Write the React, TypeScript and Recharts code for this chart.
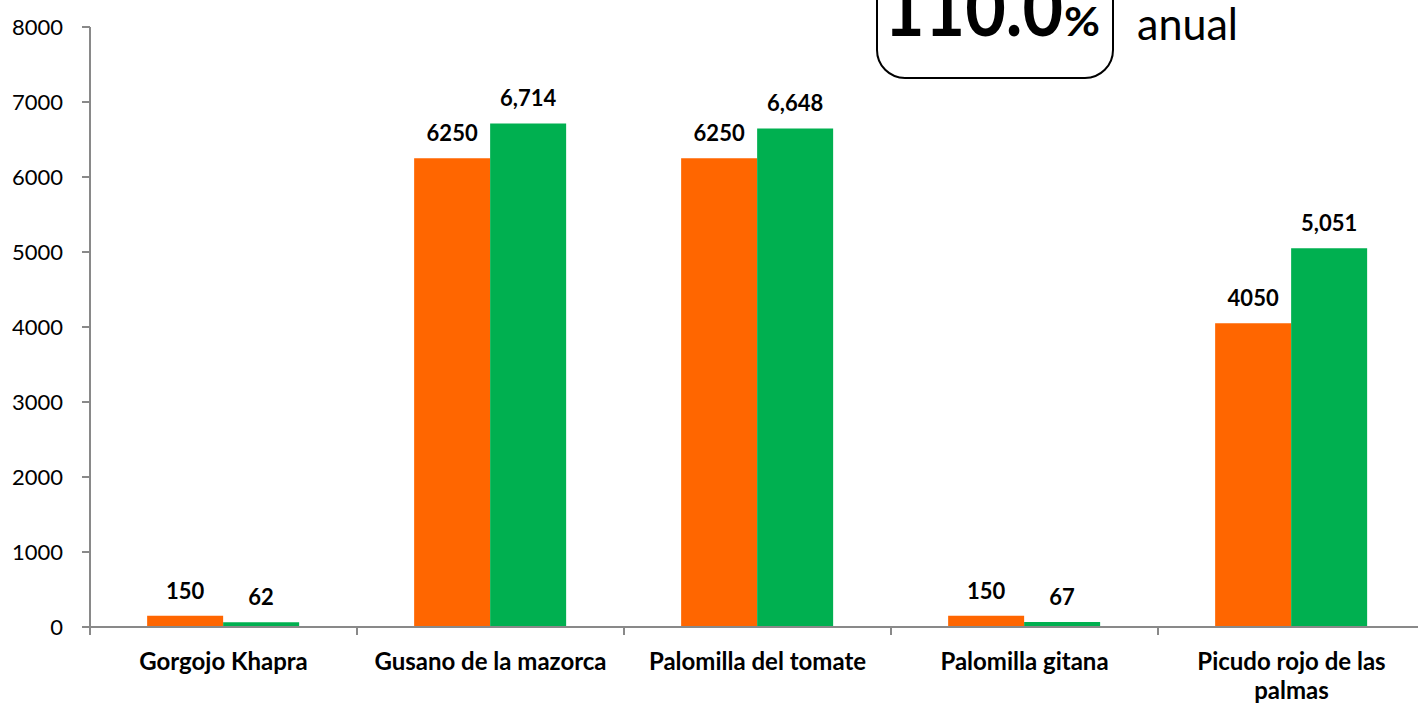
import { BarChart, Bar, XAxis, YAxis, LabelList } from 'recharts';

const categories = ['Gorgojo Khapra', 'Gusano de la mazorca', 'Palomilla del tomate', 'Palomilla gitana', 'Picudo rojo de las palmas'];
const meta = [150, 6250, 6250, 150, 4050];
const logrado = [62, 6714, 6648, 67, 5051];
const yTicks = [0, 1000, 2000, 3000, 4000, 5000, 6000, 7000, 8000];
const avance = '110.0';

const data = categories.map((name, i) => ({ name, meta: meta[i], logrado: logrado[i] }));

const FONT = 'Lato, "Open Sans", sans-serif';
const AXIS = '#898989';
const CAT_W = 267;

function wrap(label: string, max = 20) {
  const lines: string[] = [];
  let cur = '';
  for (const w of label.split(' ')) {
    const next = cur ? cur + ' ' + w : w;
    if (next.length > max && cur) {
      lines.push(cur);
      cur = w;
    } else cur = next;
  }
  if (cur) lines.push(cur);
  return lines;
}

const CatTick = (props: any) => {
  const { x, y, payload } = props;
  const lines = wrap(payload.value);
  return (
    <g>
      <line x1={x - CAT_W / 2} x2={x - CAT_W / 2} y1={y - 8} y2={y} stroke={AXIS} strokeWidth={2} />
      <line x1={x + CAT_W / 2} x2={x + CAT_W / 2} y1={y - 8} y2={y} stroke={AXIS} strokeWidth={2} />
      {lines.map((l, i) => (
        <text key={i} x={x} y={y + 35 + i * 29} textAnchor="middle" fontSize={24} fontWeight="bold" fontFamily={FONT} fill="#000">
          {l}
        </text>
      ))}
    </g>
  );
};

const labelStyle = { fontSize: 22, fontWeight: 'bold', fill: '#000', fontFamily: FONT };

export default function App() {
  return (
    <div style={{ position: 'absolute', left: 0, top: 0, width: 1418, height: 705, overflow: 'hidden', background: '#fff' }}>
      <BarChart
        width={1440}
        height={705}
        data={data}
        margin={{ top: 27, right: 15, left: 0, bottom: 0 }}
        barCategoryGap="21.4%"
        barGap={0}
      >
        <XAxis
          dataKey="name"
          height={78}
          axisLine={{ stroke: AXIS, strokeWidth: 2 }}
          tickLine={false}
          tick={<CatTick />}
          interval={0}
        />
        <YAxis
          width={90}
          domain={[0, 8000]}
          ticks={yTicks}
          interval={0}
          axisLine={{ stroke: AXIS, strokeWidth: 2 }}
          tickLine={{ stroke: AXIS, strokeWidth: 2 }}
          tickSize={8}
          tickMargin={19}
          tick={{ fontSize: 22, fill: '#000', fontFamily: FONT }}
        />
        <Bar dataKey="meta" fill="#FF6600" isAnimationActive={false}>
          <LabelList dataKey="meta" position="top" offset={17} style={labelStyle} />
        </Bar>
        <Bar dataKey="logrado" fill="#00B050" isAnimationActive={false}>
          <LabelList
            dataKey="logrado"
            position="top"
            offset={17}
            formatter={(v: any) => Number(v).toLocaleString('en-US')}
            style={labelStyle}
          />
        </Bar>
      </BarChart>
      <svg width={1418} height={100} style={{ position: 'absolute', left: 0, top: 0 }}>
        <rect x={877} y={-60} width={236} height={138} rx={28} fill="#fff" stroke="#000" strokeWidth={2} />
        <text x={884} y={36} fontSize={78} fontWeight="bold" fontFamily={FONT} textLength={179} lengthAdjust="spacingAndGlyphs">
          {avance}
        </text>
        <text x={1064} y={36} fontSize={40} fontWeight="bold" fontFamily={FONT} textLength={36} lengthAdjust="spacingAndGlyphs">
          %
        </text>
        <text x={1137} y={40} fontSize={45} fontFamily={FONT} textLength={101} lengthAdjust="spacingAndGlyphs">
          anual
        </text>
      </svg>
    </div>
  );
}
